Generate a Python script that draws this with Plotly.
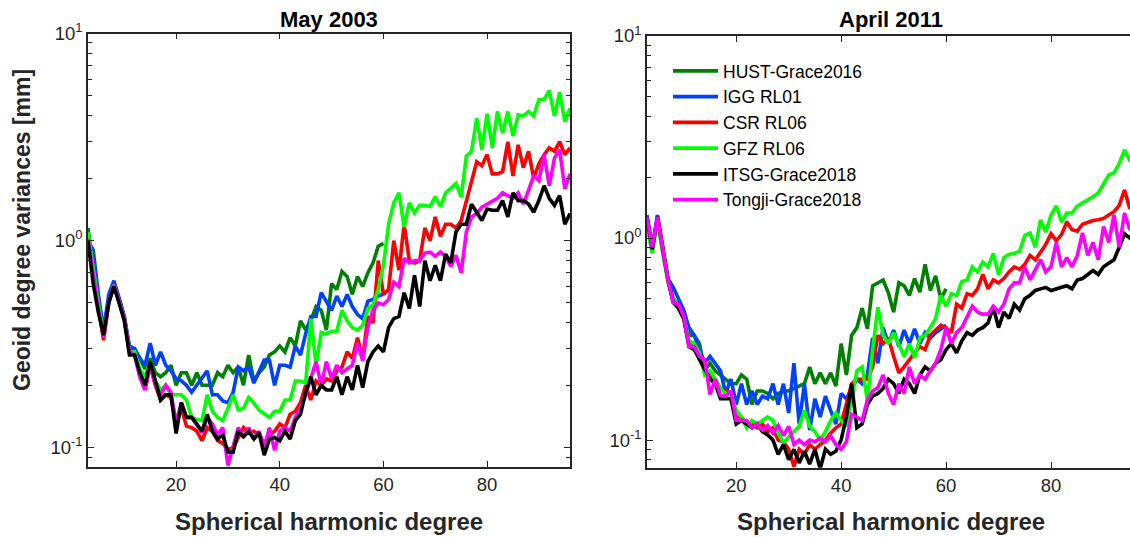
import plotly.graph_objects as go

FONT = "Arial, 'Liberation Sans', Helvetica, sans-serif"
AXIS_COLOR = "#262626"
W, H = 1130, 537

# Spherical harmonic degrees
degrees = list(range(3, 97))
degrees_short = list(range(3, 61))  # HUST and IGG stop at degree 60

names = ["HUST-Grace2016", "IGG RL01", "CSR RL06", "GFZ RL06", "ITSG-Grace2018", "Tongji-Grace2018"]
colors = ["#008000", "#0040ff", "#ff0000", "#00ff00", "#000000", "#ff00ff"]

# ---- May 2003 geoid degree variances [mm] ----
hust_2003 = [1.15, 0.72, 0.5, 0.36, 0.52, 0.62, 0.52, 0.43, 0.3, 0.3,
             0.27, 0.24, 0.27, 0.23, 0.22, 0.23, 0.25, 0.2, 0.23, 0.23,
             0.2, 0.23, 0.2, 0.2, 0.2, 0.23, 0.22, 0.25, 0.23, 0.245,
             0.2, 0.28, 0.21, 0.23, 0.245, 0.28, 0.29, 0.31, 0.29, 0.34,
             0.31, 0.41, 0.37, 0.41, 0.48, 0.46, 0.37, 0.62, 0.58, 0.71,
             0.67, 0.55, 0.67, 0.6, 0.7, 0.78, 0.94, 0.97]
igg_2003 = [1.0, 0.9, 0.55, 0.37, 0.55, 0.64, 0.53, 0.43, 0.31, 0.3,
            0.27, 0.25, 0.32, 0.25, 0.29, 0.25, 0.235, 0.215, 0.21, 0.2,
            0.185, 0.2, 0.215, 0.235, 0.18, 0.18, 0.168, 0.165, 0.185, 0.245,
            0.235, 0.245, 0.205, 0.235, 0.265, 0.265, 0.2, 0.25, 0.25, 0.245,
            0.31, 0.28, 0.355, 0.43, 0.43, 0.56, 0.51, 0.46, 0.54, 0.48,
            0.55, 0.48, 0.44, 0.42, 0.51, 0.52, 0.54, 0.55]
csr_2003 = [1.0, 0.7, 0.48, 0.33, 0.5, 0.61, 0.51, 0.42, 0.29, 0.28,
            0.22, 0.19, 0.25, 0.2, 0.17, 0.18, 0.175, 0.135, 0.155, 0.127,
            0.125, 0.12, 0.108, 0.125, 0.12, 0.108, 0.105, 0.098, 0.1, 0.112,
            0.125, 0.118, 0.12, 0.115, 0.105, 0.115, 0.12, 0.13, 0.125, 0.145,
            0.15, 0.165, 0.2, 0.17, 0.21, 0.2, 0.215, 0.21, 0.235, 0.245,
            0.29, 0.27, 0.34, 0.27, 0.43, 0.4, 0.8, 0.55, 0.58, 1.0,
            0.72, 1.2, 0.8, 0.78, 0.8, 1.15, 1.0, 1.3, 1.05, 1.2,
            1.2, 1.15, 1.25, 1.55, 1.9, 2.4, 2.3, 2.6, 2.1, 2.1,
            2.15, 3.0, 2.05, 2.9, 2.25, 2.7, 2.0, 2.35, 2.6, 2.8,
            2.7, 3.0, 2.6, 2.8]
gfz_2003 = [1.1, 0.72, 0.5, 0.35, 0.5, 0.61, 0.51, 0.42, 0.29, 0.29,
            0.24, 0.22, 0.26, 0.21, 0.19, 0.2, 0.18, 0.18, 0.18, 0.17,
            0.14, 0.137, 0.135, 0.18, 0.15, 0.14, 0.135, 0.155, 0.18, 0.152,
            0.155, 0.175, 0.165, 0.152, 0.145, 0.14, 0.15, 0.15, 0.17, 0.17,
            0.21, 0.21, 0.205, 0.42, 0.25, 0.36, 0.355, 0.365, 0.365, 0.46,
            0.41, 0.38, 0.37, 0.39, 0.47, 0.49, 0.58, 0.76, 1.2, 1.52,
            1.7, 1.16, 1.52, 1.36, 1.48, 1.48, 1.46, 1.63, 1.46, 1.7,
            1.79, 1.89, 1.62, 2.56, 2.7, 3.9, 2.75, 4.1, 2.8, 4.2,
            3.3, 4.2, 3.2, 4.05, 4.0, 4.2, 4.0, 4.8, 4.8, 5.3,
            4.0, 5.2, 3.75, 4.35]
itsg_2003 = [1.0, 0.62, 0.45, 0.35, 0.5, 0.6, 0.5, 0.41, 0.28, 0.28,
             0.23, 0.2, 0.26, 0.21, 0.17, 0.18, 0.18, 0.117, 0.165, 0.14,
             0.14, 0.13, 0.12, 0.145, 0.12, 0.11, 0.115, 0.095, 0.095, 0.12,
             0.113, 0.12, 0.11, 0.118, 0.092, 0.11, 0.112, 0.108, 0.12, 0.11,
             0.135, 0.145, 0.185, 0.22, 0.18, 0.2, 0.19, 0.19, 0.22, 0.18,
             0.22, 0.19, 0.25, 0.195, 0.26, 0.29, 0.31, 0.29, 0.38, 0.42,
             0.43, 0.56, 0.47, 0.68, 0.48, 0.8, 0.64, 0.76, 0.64, 0.86,
             0.78, 1.1, 1.2, 1.2, 1.5, 1.37, 1.25, 1.42, 1.4, 1.4,
             1.56, 1.3, 1.7, 1.56, 1.56, 1.5, 1.37, 1.56, 1.84, 1.6,
             1.48, 1.65, 1.2, 1.35]
tongji_2003 = [1.02, 0.68, 0.47, 0.34, 0.5, 0.61, 0.51, 0.42, 0.29, 0.28,
               0.22, 0.19, 0.25, 0.2, 0.18, 0.2, 0.185, 0.13, 0.165, 0.14,
               0.14, 0.128, 0.118, 0.14, 0.13, 0.115, 0.125, 0.082, 0.1, 0.125,
               0.112, 0.125, 0.11, 0.12, 0.1, 0.125, 0.097, 0.12, 0.125, 0.12,
               0.14, 0.155, 0.18, 0.215, 0.26, 0.2, 0.26, 0.215, 0.25, 0.23,
               0.24, 0.25, 0.32, 0.263, 0.38, 0.46, 0.5, 0.49, 0.52, 0.63,
               0.6, 0.82, 0.78, 0.8, 0.8, 0.87, 0.88, 0.84, 0.88, 0.84,
               0.75, 0.85, 0.7, 1.1, 1.3, 1.35, 1.45, 1.5, 1.55, 1.6,
               1.7, 1.65, 1.6, 1.7, 1.5, 1.75, 2.05, 1.95, 2.6, 1.84,
               2.5, 2.75, 1.78, 2.1]

# ---- April 2011 geoid degree variances [mm] ----
hust_2011 = [1.2, 0.86, 1.25, 0.9, 0.62, 0.5, 0.47, 0.42, 0.33, 0.33,
             0.3, 0.22, 0.24, 0.22, 0.21, 0.2, 0.19, 0.19, 0.21, 0.2,
             0.15, 0.175, 0.175, 0.17, 0.16, 0.17, 0.175, 0.175, 0.18, 0.185,
             0.19, 0.23, 0.19, 0.215, 0.19, 0.215, 0.185, 0.3, 0.21, 0.33,
             0.36, 0.45, 0.355, 0.58, 0.6, 0.62, 0.535, 0.43, 0.6, 0.58,
             0.52, 0.63, 0.54, 0.74, 0.55, 0.65, 0.5, 0.56]
igg_2011 = [1.3, 0.9, 1.3, 0.9, 0.63, 0.57, 0.5, 0.44, 0.36, 0.33,
            0.28, 0.24, 0.26, 0.24, 0.22, 0.17, 0.2, 0.15, 0.19, 0.15,
            0.175, 0.15, 0.165, 0.16, 0.19, 0.15, 0.19, 0.136, 0.24, 0.12,
            0.19, 0.112, 0.16, 0.13, 0.165, 0.14, 0.12, 0.17, 0.16, 0.18,
            0.2, 0.19, 0.21, 0.32, 0.24, 0.36, 0.3, 0.35, 0.29, 0.35,
            0.3, 0.355, 0.3, 0.34, 0.32, 0.34, 0.355, 0.37]
csr_2011 = [1.25, 0.88, 1.25, 0.85, 0.62, 0.48, 0.45, 0.4, 0.3, 0.3,
            0.26, 0.22, 0.21, 0.2, 0.18, 0.175, 0.17, 0.13, 0.13, 0.12,
            0.12, 0.115, 0.12, 0.11, 0.115, 0.1, 0.098, 0.09, 0.074, 0.09,
            0.085, 0.095, 0.09, 0.095, 0.1, 0.108, 0.115, 0.12, 0.15, 0.19,
            0.2, 0.2, 0.2, 0.23, 0.33, 0.3, 0.32, 0.26, 0.215, 0.23,
            0.25, 0.27, 0.29, 0.28, 0.33, 0.35, 0.37, 0.36, 0.34, 0.47,
            0.45, 0.53, 0.52, 0.56, 0.66, 0.56, 0.62, 0.6, 0.63, 0.68,
            0.72, 0.7, 0.74, 0.82, 0.78, 0.85, 0.93, 1.05, 0.97, 1.04,
            1.2, 1.1, 1.08, 1.17, 1.2, 1.22, 1.23, 1.25, 1.3, 1.35,
            1.45, 1.73, 1.4, 1.5]
gfz_2011 = [1.15, 0.84, 1.22, 0.88, 0.6, 0.5, 0.46, 0.41, 0.31, 0.3,
            0.27, 0.21, 0.22, 0.2, 0.18, 0.17, 0.17, 0.14, 0.13, 0.115,
            0.125, 0.12, 0.125, 0.13, 0.125, 0.108, 0.097, 0.103, 0.11, 0.117,
            0.14, 0.117, 0.11, 0.1, 0.11, 0.125, 0.136, 0.125, 0.117, 0.165,
            0.22, 0.23, 0.157, 0.28, 0.455, 0.33, 0.3, 0.34, 0.3, 0.26,
            0.3, 0.255, 0.32, 0.33, 0.36, 0.4, 0.52, 0.46, 0.53, 0.52,
            0.61, 0.62, 0.72, 0.68, 0.76, 0.72, 0.84, 0.66, 0.8, 0.83,
            0.84, 0.86, 1.03, 1.06, 0.9, 1.23, 1.07, 1.3, 1.44, 1.2,
            1.33, 1.33, 1.44, 1.49, 1.54, 1.6, 1.67, 1.85, 2.05, 2.1,
            2.34, 2.73, 2.43, 2.5]
itsg_2011 = [1.27, 0.88, 1.27, 0.88, 0.62, 0.48, 0.45, 0.4, 0.29, 0.28,
             0.25, 0.22, 0.2, 0.19, 0.16, 0.16, 0.16, 0.12, 0.125, 0.12,
             0.115, 0.12, 0.11, 0.106, 0.1, 0.085, 0.095, 0.08, 0.09, 0.077,
             0.088, 0.076, 0.09, 0.072, 0.09, 0.085, 0.088, 0.1, 0.13, 0.19,
             0.115, 0.12, 0.15, 0.165, 0.17, 0.18, 0.2, 0.19, 0.17, 0.2,
             0.19, 0.17, 0.21, 0.23, 0.22, 0.24, 0.25, 0.28, 0.3, 0.27,
             0.31, 0.34, 0.33, 0.35, 0.36, 0.38, 0.455, 0.36, 0.43, 0.4,
             0.47, 0.44, 0.5, 0.52, 0.55, 0.56, 0.57, 0.55, 0.56, 0.57,
             0.58, 0.56, 0.62, 0.63, 0.66, 0.69, 0.66, 0.72, 0.75, 0.78,
             0.9, 1.05, 1.0, 1.1]
tongji_2011 = [1.27, 0.9, 1.27, 0.9, 0.62, 0.48, 0.47, 0.41, 0.29, 0.29,
               0.26, 0.25, 0.168, 0.2, 0.166, 0.165, 0.175, 0.125, 0.125, 0.125,
               0.115, 0.12, 0.112, 0.118, 0.108, 0.118, 0.105, 0.117, 0.095, 0.1,
               0.095, 0.1, 0.098, 0.102, 0.098, 0.105, 0.095, 0.09, 0.098, 0.134,
               0.13, 0.125, 0.158, 0.175, 0.182, 0.21, 0.17, 0.15, 0.19, 0.17,
               0.23, 0.19, 0.21, 0.2, 0.22, 0.24, 0.28, 0.36, 0.3, 0.34,
               0.36, 0.41, 0.46, 0.43, 0.42, 0.42, 0.46, 0.43, 0.47, 0.56,
               0.6, 0.6, 0.72, 0.62, 0.7, 0.78, 0.68, 0.72, 0.95, 0.72,
               0.8, 0.72, 0.82, 1.06, 0.82, 0.95, 0.78, 1.14, 0.95, 1.3,
               0.9, 1.33, 1.1, 1.2]

# Axis tick labels
x_ticks = [20, 40, 60, 80]
y_ticks = [0.1, 1, 10]
y_ticktext = ["10<sup>-1</sup>", "10<sup>0</sup>", "10<sup>1</sup>"]
y_minor = [0.08, 0.09, 0.2, 0.3, 0.4, 0.5, 0.6, 0.7, 0.8, 0.9,
           2, 3, 4, 5, 6, 7, 8, 9]

panel_2003 = [hust_2003, igg_2003, csr_2003, gfz_2003, itsg_2003, tongji_2003]
panel_2011 = [hust_2011, igg_2011, csr_2011, gfz_2011, itsg_2011, tongji_2011]

fig = go.Figure()

# Left panel: ITSG drawn last so it sits on top
left_order = [0, 1, 2, 3, 5, 4]
for i in left_order:
    vals = panel_2003[i]
    x = degrees_short if len(vals) == len(degrees_short) else degrees
    fig.add_trace(go.Scatter(x=x, y=vals, mode="lines", name=names[i],
                             line=dict(color=colors[i], width=3.6),
                             xaxis="x", yaxis="y", showlegend=False))

for i in range(6):
    vals = panel_2011[i]
    x = degrees_short if len(vals) == len(degrees_short) else degrees
    fig.add_trace(go.Scatter(x=x, y=vals, mode="lines", name=names[i],
                             line=dict(color=colors[i], width=3.6),
                             xaxis="x2", yaxis="y2", showlegend=True,
                             legendrank=i + 1))


def px_x(p):
    return p / W


def px_y(p):
    return 1 - p / H


def x_axis(domain, rng, anchor, mirror):
    return dict(domain=domain, range=rng, anchor=anchor, automargin=False,
                tickvals=x_ticks, ticks="inside", ticklen=6, tickwidth=1.3,
                tickcolor=AXIS_COLOR, showline=True, linecolor=AXIS_COLOR,
                linewidth=1.6, mirror=mirror, showgrid=False, zeroline=False,
                tickfont=dict(family=FONT, size=18.5, color=AXIS_COLOR))


def y_axis(domain, rng, anchor, mirror):
    return dict(type="log", domain=domain, range=rng, anchor=anchor,
                automargin=False,
                tickvals=y_ticks, ticktext=y_ticktext, ticks="inside",
                ticklen=6, tickwidth=1.3, tickcolor=AXIS_COLOR,
                showline=True, linecolor=AXIS_COLOR, linewidth=1.6,
                mirror=mirror, showgrid=False, zeroline=False,
                tickfont=dict(family=FONT, size=18.5, color=AXIS_COLOR),
                minor=dict(tickmode="array", tickvals=y_minor, ticks="inside",
                           ticklen=4, tickwidth=1.3, tickcolor=AXIS_COLOR,
                           showgrid=False))


fig.update_layout(
    width=W, height=H,
    margin=dict(l=0, r=0, t=0, b=0, autoexpand=False),
    paper_bgcolor="white", plot_bgcolor="white",
    xaxis=x_axis([px_x(88), px_x(570)], [3, 96], "y", "ticks"),
    yaxis=y_axis([px_y(466.7), px_y(33.5)], [-1.092, 1], "x", "ticks"),
    xaxis2=x_axis([px_x(647), 1.0], [3, 95.05], "y2", "ticks"),
    yaxis2=y_axis([px_y(467.7), px_y(36)], [-1.137, 1], "x2", False),
    legend=dict(x=px_x(668), y=px_y(53), xanchor="left", yanchor="top",
                bgcolor="rgba(0,0,0,0)", borderwidth=0,
                font=dict(family=FONT, size=17.5, color="black"),
                itemwidth=45, tracegroupgap=0),
    showlegend=True,
)

annotations = [
    dict(text="<b>May 2003</b>", x=px_x(329), y=px_y(19)),
    dict(text="<b>April 2011</b>", x=px_x(891), y=px_y(19)),
]
for a in annotations:
    a.update(xref="paper", yref="paper", showarrow=False,
             xanchor="center", yanchor="middle",
             font=dict(family=FONT, size=22, color="black"))

for cx in (329, 891):
    annotations.append(dict(text="<b>Spherical harmonic degree</b>",
                            x=px_x(cx), y=px_y(521), xref="paper", yref="paper",
                            showarrow=False, xanchor="center", yanchor="middle",
                            font=dict(family=FONT, size=24, color=AXIS_COLOR)))

annotations.append(dict(text="<b>Geoid degree variances [mm]</b>",
                        x=px_x(22), y=px_y(230), xref="paper", yref="paper",
                        showarrow=False, xanchor="center", yanchor="middle",
                        textangle=-90,
                        font=dict(family=FONT, size=23, color=AXIS_COLOR)))

fig.update_layout(annotations=annotations)

fig.write_html("out.html")
